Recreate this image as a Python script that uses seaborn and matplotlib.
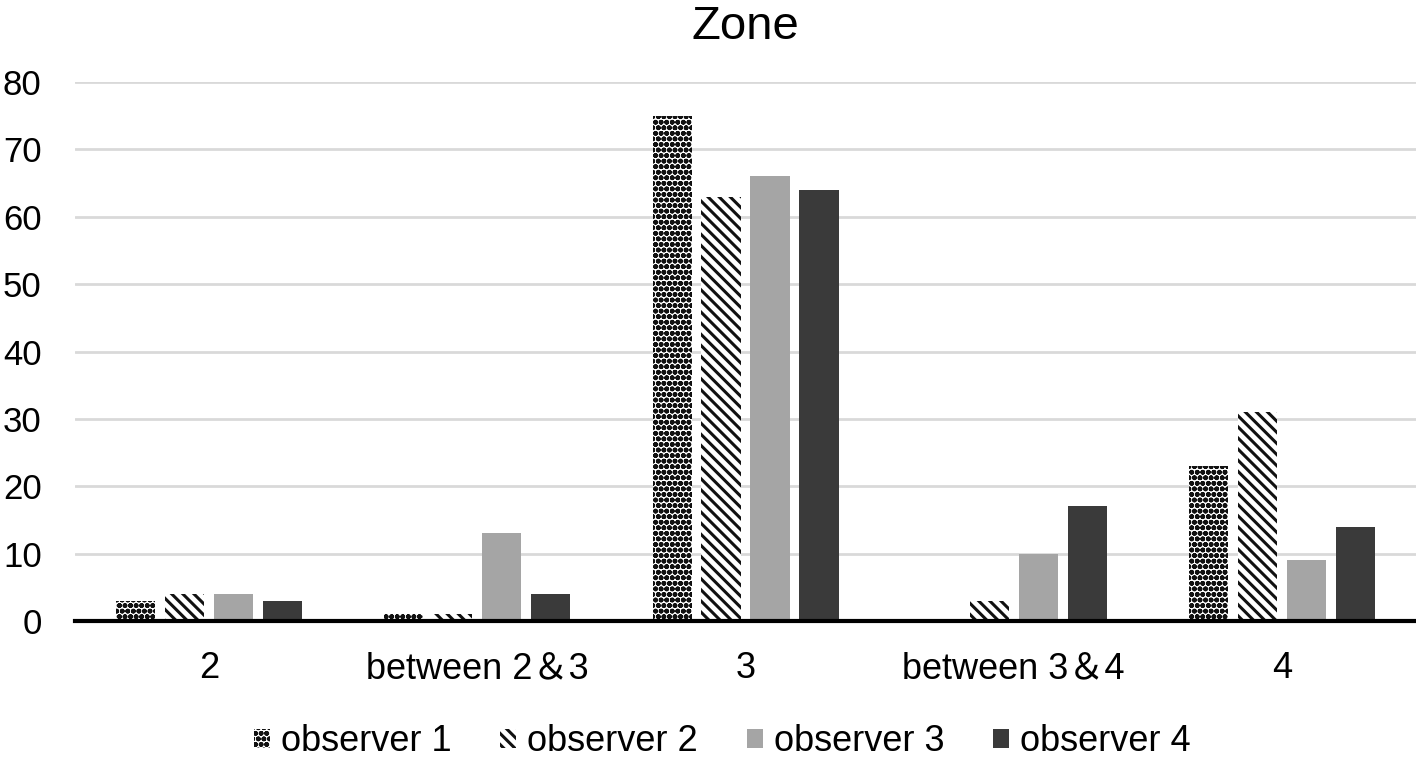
import matplotlib
matplotlib.use("Agg")
import matplotlib.pyplot as plt
import seaborn as sns
import pandas as pd

zones = ["2", "between 2\uff063", "3", "between 3\uff064", "4"]
observers = ["observer 1", "observer 2", "observer 3", "observer 4"]
obs1 = [3, 1, 75, 0, 23]
obs2 = [4, 1, 63, 3, 31]
obs3 = [4, 13, 66, 10, 9]
obs4 = [3, 4, 64, 17, 14]

sns.set_theme(style="white")
plt.rcParams['font.family'] = ['Liberation Sans', 'Noto Sans CJK JP', 'DejaVu Sans']
plt.rcParams['text.color'] = 'black'
plt.rcParams['hatch.linewidth'] = 2.2

rows = []
for obs, vals in zip(observers, [obs1, obs2, obs3, obs4]):
    for z, v in zip(zones, vals):
        rows.append({"zone": z, "observer": obs, "value": v})
df = pd.DataFrame(rows)

palette = {"observer 1": "white", "observer 2": "white",
           "observer 3": "#a5a5a5", "observer 4": "#3a3a3a"}

fig = plt.figure(figsize=(14.16, 7.6), dpi=100)
ax = fig.add_axes([0.053, 0.183, 0.947, 0.709])
sns.barplot(data=df, x="zone", y="value", hue="observer", order=zones,
            hue_order=observers, palette=palette, width=0.73, gap=0.2,
            ax=ax, legend=True, saturation=1)

hatches = ["ooo", "\\\\\\", None, None]
hlw = [1.8, 2.2, 1, 1]
edges = ["#111111", "#111111", "#a5a5a5", "#3a3a3a"]


def style_patch(p, h, ec, lw):
    p.set_edgecolor(ec)
    p.set_linewidth(0)
    if h:
        p.set_hatch(h)
        if hasattr(p, "set_hatch_linewidth"):
            p.set_hatch_linewidth(lw)


for cont, h, ec, lw in zip(ax.containers, hatches, edges, hlw):
    for p in cont:
        style_patch(p, h, ec, lw)

ax.set_ylim(0, 80)
ax.set_xlim(-0.5, 4.5)
ax.set_yticks(range(0, 81, 10))
ax.yaxis.grid(True, color="#d9d9d9", linewidth=2)
ax.set_axisbelow(True)
for s in ["top", "right", "left"]:
    ax.spines[s].set_visible(False)
ax.spines["bottom"].set_color("black")
ax.spines["bottom"].set_linewidth(3)
ax.spines["bottom"].set_zorder(5)
ax.tick_params(axis="both", length=0, colors="black")
ax.tick_params(axis="y", labelsize=25, pad=24)
ax.tick_params(axis="x", labelsize=26, pad=22)
ax.set_xlabel("")
ax.set_ylabel("")
ax.set_title("Zone", fontsize=34, pad=31, color="black")

handles, labels = ax.get_legend_handles_labels()
ax.get_legend().remove()
leg = fig.legend(handles, labels, loc="center", bbox_to_anchor=(0.51, 0.024),
                 ncol=4, frameon=False, fontsize=26, handlelength=0.45,
                 handleheight=0.45, handletextpad=0.3, columnspacing=1.35,
                 borderpad=0)
for t in leg.get_texts():
    t.set_color("black")
for hnd, h, ec, lw in zip(leg.legend_handles, hatches, edges, hlw):
    style_patch(hnd, h, ec, lw)

fig.savefig("out.png", dpi=100)
